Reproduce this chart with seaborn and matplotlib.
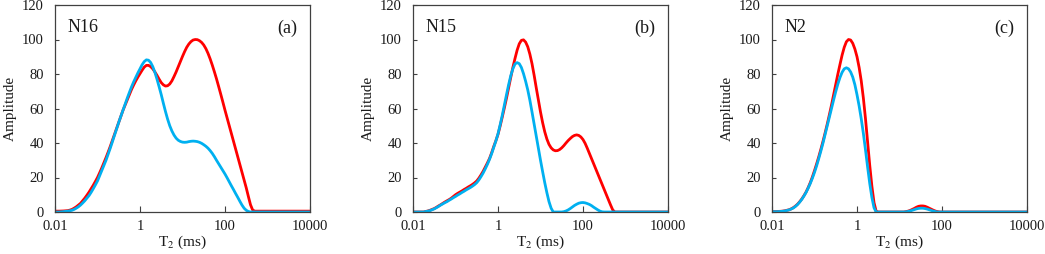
import numpy as np
import pandas as pd
import matplotlib
matplotlib.use("Agg")
import matplotlib.pyplot as plt
import seaborn as sns

# Each series: (log10 T2, amplitude) pairs

# Panel (a) N16
a_red = [(-2.0, 0.5), (-1.95, 0.5), (-1.9, 0.5), (-1.85, 0.55), (-1.8, 0.6), (-1.75, 0.7), (-1.7, 0.8),
         (-1.65, 1.1), (-1.6, 1.5), (-1.55, 2.2), (-1.5, 3), (-1.45, 4), (-1.4, 5), (-1.35, 6.5),
         (-1.3, 8), (-1.25, 9.7), (-1.2, 11.5), (-1.15, 13.5), (-1.1, 15.5), (-1.05, 17.7), (-1.0, 20),
         (-0.95, 22.7), (-0.9, 25.5), (-0.85, 28.5), (-0.8, 31.5), (-0.75, 34.7), (-0.7, 38), (-0.65, 41.5),
         (-0.6, 45), (-0.55, 48.5), (-0.5, 52), (-0.45, 55.5), (-0.4, 59), (-0.35, 62), (-0.3, 65),
         (-0.25, 68), (-0.2, 71), (-0.15, 73.6), (-0.1, 76), (-0.05, 78.2), (0.0, 80.2), (0.05, 82.2),
         (0.1, 84), (0.15, 85), (0.2, 85), (0.25, 84.3), (0.3, 83), (0.35, 81.2), (0.4, 79.2),
         (0.45, 77), (0.5, 75), (0.55, 73.7), (0.6, 73), (0.65, 73.2), (0.7, 74.2), (0.75, 76),
         (0.8, 78.5), (0.85, 81.2), (0.9, 84.2), (0.95, 87.2), (1.0, 90.2), (1.05, 93), (1.1, 95.5),
         (1.15, 97.4), (1.2, 98.8), (1.25, 99.7), (1.3, 100), (1.35, 99.9), (1.4, 99.3), (1.45, 98.3),
         (1.5, 96.8), (1.55, 94.7), (1.6, 92), (1.65, 88.8), (1.7, 85.2), (1.75, 81.3), (1.8, 77.2),
         (1.85, 72.8), (1.9, 68.3), (1.95, 63.7), (2.0, 59), (2.05, 54.5), (2.1, 50), (2.15, 45.5),
         (2.2, 41), (2.25, 36.5), (2.3, 32), (2.35, 27.5), (2.4, 23), (2.45, 18.5), (2.5, 14),
         (2.55, 9), (2.6, 4.2), (2.65, 1.2), (2.7, 0.5), (4.0, 0.5)]
a_blue = [(-2.0, 0), (-1.9, 0), (-1.85, 0.1), (-1.8, 0.2), (-1.75, 0.35), (-1.7, 0.5), (-1.65, 0.7),
          (-1.6, 1), (-1.55, 1.5), (-1.5, 2.2), (-1.45, 3), (-1.4, 4), (-1.35, 5.2), (-1.3, 6.5),
          (-1.25, 8), (-1.2, 9.5), (-1.15, 11.4), (-1.1, 13.5), (-1.05, 15.7), (-1.0, 18), (-0.95, 21),
          (-0.9, 24), (-0.85, 27), (-0.8, 30), (-0.75, 33.5), (-0.7, 37), (-0.65, 40.7), (-0.6, 44.5),
          (-0.55, 48.2), (-0.5, 52), (-0.45, 55.5), (-0.4, 59), (-0.35, 62.5), (-0.3, 66), (-0.25, 69.3),
          (-0.2, 72.5), (-0.15, 75.4), (-0.1, 78), (-0.05, 80.6), (0.0, 83), (0.05, 85.4), (0.1, 87.2),
          (0.15, 88.2), (0.2, 88), (0.25, 86.7), (0.3, 84.3), (0.35, 81), (0.4, 77), (0.45, 72.6),
          (0.5, 68), (0.55, 63), (0.6, 58.2), (0.65, 53.8), (0.7, 50), (0.75, 47), (0.8, 44.6),
          (0.85, 42.8), (0.9, 41.6), (0.95, 40.9), (1.0, 40.5), (1.05, 40.4), (1.1, 40.5), (1.15, 40.8),
          (1.2, 41), (1.25, 41.1), (1.3, 41), (1.35, 40.8), (1.4, 40.4), (1.45, 39.8), (1.5, 39),
          (1.55, 38.1), (1.6, 37), (1.65, 35.6), (1.7, 34), (1.75, 32.1), (1.8, 30), (1.85, 28),
          (1.9, 26), (1.95, 24), (2.0, 22), (2.05, 19.8), (2.1, 17.5), (2.15, 15.2), (2.2, 13),
          (2.25, 10.7), (2.3, 8.5), (2.35, 6.2), (2.4, 4), (2.45, 2.2), (2.5, 1), (2.55, 0.3),
          (2.6, 0), (4.0, 0)]

# Panel (b) N15
b_red = [(-2.0, 0), (-1.75, 0), (-1.7, 0.3), (-1.65, 0.6), (-1.6, 1), (-1.55, 1.5), (-1.5, 2),
         (-1.45, 2.7), (-1.4, 3.5), (-1.35, 4.2), (-1.3, 5), (-1.25, 5.8), (-1.2, 6.5), (-1.15, 7.2),
         (-1.1, 8), (-1.05, 9), (-1.0, 10), (-0.95, 10.8), (-0.9, 11.5), (-0.85, 12.2), (-0.8, 13),
         (-0.75, 13.7), (-0.7, 14.5), (-0.65, 15.2), (-0.6, 16), (-0.55, 16.9), (-0.5, 18), (-0.45, 19.6),
         (-0.4, 21.5), (-0.35, 23.6), (-0.3, 26), (-0.25, 28.4), (-0.2, 31), (-0.15, 34.3), (-0.1, 38),
         (-0.05, 41.3), (0.0, 45), (0.05, 49.8), (0.1, 55), (0.15, 60.4), (0.2, 66), (0.25, 72),
         (0.3, 78), (0.35, 83.8), (0.4, 89), (0.45, 93.8), (0.5, 97.5), (0.55, 99.5), (0.6, 99.8),
         (0.65, 98.5), (0.7, 95.8), (0.75, 91.5), (0.8, 86), (0.85, 79.3), (0.9, 72), (0.95, 65),
         (1.0, 58), (1.05, 51.8), (1.1, 46.5), (1.15, 42.3), (1.2, 39.2), (1.25, 37.2), (1.3, 36),
         (1.35, 35.5), (1.4, 35.6), (1.45, 36.2), (1.5, 37.2), (1.55, 38.5), (1.6, 40), (1.65, 41.4),
         (1.7, 42.6), (1.75, 43.7), (1.8, 44.4), (1.85, 44.7), (1.9, 44.4), (1.95, 43.5), (2.0, 42),
         (2.05, 39.8), (2.1, 37), (2.15, 34), (2.2, 31), (2.25, 28), (2.3, 25), (2.35, 22),
         (2.4, 19), (2.45, 16), (2.5, 13), (2.55, 10), (2.6, 7), (2.65, 4), (2.7, 1.2),
         (2.75, 0), (4.0, 0)]
b_blue = [(-2.0, 0), (-1.75, 0), (-1.7, 0.3), (-1.65, 0.5), (-1.6, 0.8), (-1.55, 1.3), (-1.5, 1.8),
          (-1.45, 2.5), (-1.4, 3.2), (-1.35, 4), (-1.3, 4.7), (-1.25, 5.4), (-1.2, 6), (-1.15, 6.8),
          (-1.1, 7.5), (-1.05, 8.3), (-1.0, 9), (-0.95, 9.8), (-0.9, 10.5), (-0.85, 11.3), (-0.8, 12),
          (-0.75, 12.8), (-0.7, 13.5), (-0.65, 14.2), (-0.6, 15), (-0.55, 15.9), (-0.5, 17), (-0.45, 18.6),
          (-0.4, 20.5), (-0.35, 22.6), (-0.3, 25), (-0.25, 27.6), (-0.2, 30.5), (-0.15, 33.8), (-0.1, 37.5),
          (-0.05, 41.2), (0.0, 45.3), (0.05, 50.5), (0.1, 56), (0.15, 62), (0.2, 68), (0.25, 73.8),
          (0.3, 79), (0.35, 83), (0.4, 85.8), (0.45, 86.6), (0.5, 86), (0.55, 83.8), (0.6, 80.2),
          (0.65, 75.8), (0.7, 70.8), (0.75, 64.8), (0.8, 58), (0.85, 51), (0.9, 44), (0.95, 37),
          (1.0, 30), (1.05, 23.4), (1.1, 17), (1.15, 11.2), (1.2, 6), (1.25, 2.2), (1.3, 0),
          (1.5, 0), (1.55, 0.2), (1.6, 0.6), (1.65, 1.2), (1.7, 2), (1.75, 2.9), (1.8, 3.8),
          (1.85, 4.5), (1.9, 5.1), (1.95, 5.4), (2.0, 5.5), (2.05, 5.3), (2.1, 4.9), (2.15, 4.4),
          (2.2, 3.7), (2.25, 2.8), (2.3, 2), (2.35, 1.2), (2.4, 0.5), (2.45, 0.1), (2.5, 0), (4.0, 0)]

# Panel (c) N2
c_red = [(-2.0, 0.3), (-1.9, 0.3), (-1.85, 0.35), (-1.8, 0.4), (-1.75, 0.5), (-1.7, 0.7), (-1.65, 1),
         (-1.6, 1.3), (-1.55, 1.8), (-1.5, 2.5), (-1.45, 3.4), (-1.4, 4.5), (-1.35, 5.9), (-1.3, 7.5),
         (-1.25, 9.4), (-1.2, 11.5), (-1.15, 14.1), (-1.1, 17), (-1.05, 20.3), (-1.0, 24), (-0.95, 27.9),
         (-0.9, 32), (-0.85, 36.4), (-0.8, 41), (-0.75, 45.9), (-0.7, 51), (-0.65, 56.4), (-0.6, 62),
         (-0.55, 68), (-0.5, 74), (-0.45, 80), (-0.4, 85.6), (-0.35, 91), (-0.3, 95.5), (-0.25, 98.7),
         (-0.2, 100), (-0.15, 99.7), (-0.1, 97.8), (-0.05, 94.5), (0.0, 90), (0.05, 83.8), (0.1, 76),
         (0.15, 66), (0.2, 54), (0.25, 40.5), (0.3, 27), (0.35, 15), (0.4, 5.5), (0.45, 0.5),
         (0.5, 0), (1.1, 0), (1.15, 0.2), (1.2, 0.5), (1.25, 0.9), (1.3, 1.5), (1.35, 2.1),
         (1.4, 2.8), (1.45, 3.3), (1.5, 3.5), (1.55, 3.5), (1.6, 3.3), (1.65, 2.8), (1.7, 2.2),
         (1.75, 1.6), (1.8, 1), (1.85, 0.5), (1.9, 0.2), (1.95, 0), (4.0, 0)]
c_blue = [(-2.0, 0.2), (-1.9, 0.2), (-1.85, 0.25), (-1.8, 0.3), (-1.75, 0.45), (-1.7, 0.6), (-1.65, 0.9),
          (-1.6, 1.2), (-1.55, 1.7), (-1.5, 2.3), (-1.45, 3.2), (-1.4, 4.3), (-1.35, 5.7), (-1.3, 7.3),
          (-1.25, 9.2), (-1.2, 11.3), (-1.15, 13.8), (-1.1, 16.5), (-1.05, 19.6), (-1.0, 23), (-0.95, 26.8),
          (-0.9, 31), (-0.85, 35.4), (-0.8, 40), (-0.75, 45), (-0.7, 50), (-0.65, 55), (-0.6, 60),
          (-0.55, 65), (-0.5, 69.8), (-0.45, 74.2), (-0.4, 78), (-0.35, 81), (-0.3, 83), (-0.25, 83.6),
          (-0.2, 83), (-0.15, 81.2), (-0.1, 78.2), (-0.05, 73.8), (0.0, 68), (0.05, 61.5), (0.1, 54),
          (0.15, 45.5), (0.2, 36), (0.25, 26), (0.3, 16.5), (0.35, 8.5), (0.4, 2.5), (0.45, 0),
          (1.1, 0), (1.15, 0.1), (1.2, 0.3), (1.25, 0.6), (1.3, 1), (1.35, 1.4), (1.4, 1.8),
          (1.45, 2.1), (1.5, 2.2), (1.55, 2.2), (1.6, 2), (1.65, 1.7), (1.7, 1.3), (1.75, 0.9),
          (1.8, 0.5), (1.85, 0.2), (1.9, 0), (4.0, 0)]

samples = ["N16", "N15", "N2"]
panel_tags = ["(a)", "(b)", "(c)"]
reds = [a_red, b_red, c_red]
blues = [a_blue, b_blue, c_blue]
x_ticks = [0.01, 1, 100, 10000]
x_tick_labels = ["0.01", "1", "100", "10000"]
y_ticks = [0, 20, 40, 60, 80, 100, 120]

sns.set_theme(style="white")
plt.rcParams["font.family"] = ["Liberation Serif", "DejaVu Serif"]
plt.rcParams["mathtext.fontset"] = "stix"

fig = plt.figure(figsize=(10.45, 2.54), dpi=100)
lefts = [55, 413, 772]
W, H = 1045, 254
ax_w = 255
bottom_px, top_px = 212, 5

RED = "#ff0000"
BLUE = "#00b0f0"
SPINE = "#404040"
TXT = "#1a1a1a"


def to_frame(pairs):
    return pd.DataFrame({"T2": [10 ** p[0] for p in pairs], "amp": [p[1] for p in pairs]})


for i in range(3):
    ax = fig.add_axes([lefts[i] / W, (H - bottom_px) / H, ax_w / W, (bottom_px - top_px) / H])
    sns.lineplot(data=to_frame(reds[i]), x="T2", y="amp", ax=ax, color=RED, lw=2.0)
    sns.lineplot(data=to_frame(blues[i]), x="T2", y="amp", ax=ax, color=BLUE, lw=2.0)
    ax.set_xscale("log")
    ax.set_xlim(0.01, 10000)
    ax.set_ylim(0, 120)
    ax.set_xticks(x_ticks)
    ax.set_xticklabels(x_tick_labels)
    ax.minorticks_off()
    ax.set_yticks(y_ticks)
    ax.tick_params(axis="x", direction="in", length=4, width=0.8, color=SPINE,
                   labelsize=10.5, pad=6, labelcolor=TXT, bottom=True)
    ax.tick_params(axis="y", direction="in", length=3, width=0.8, color=SPINE,
                   labelsize=10.5, pad=8, labelcolor=TXT, left=True)
    for s in ax.spines.values():
        s.set_color(SPINE)
        s.set_linewidth(0.9)
    ax.set_xlabel(r"T$_2$ (ms)", fontsize=11, labelpad=0, color=TXT)
    ax.set_ylabel("Amplitude", fontsize=11, labelpad=4, color=TXT)
    ax.text(0.05, 0.93, samples[i], transform=ax.transAxes, fontsize=13,
            ha="left", va="top", color=TXT)
    ax.text(0.95, 0.93, panel_tags[i], transform=ax.transAxes, fontsize=13,
            ha="right", va="top", color=TXT)

fig.savefig("out.png", dpi=100)
